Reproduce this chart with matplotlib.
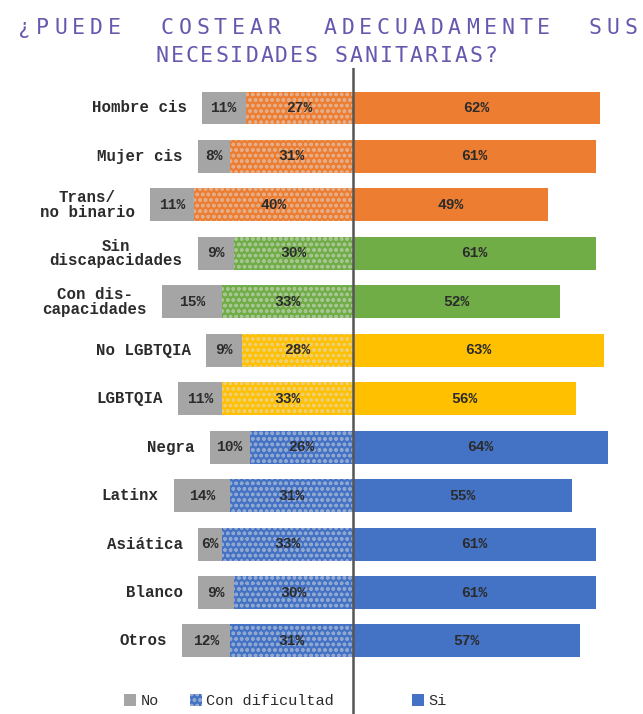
import numpy as np
import matplotlib
matplotlib.use('Agg')
import matplotlib.pyplot as plt
from matplotlib.patches import Patch
from matplotlib.colors import to_rgb

# datos
categorias = ['Hombre cis', 'Mujer cis', 'Trans/\nno binario', 'Sin\ndiscapacidades',
              'Con dis-\ncapacidades', 'No LGBTQIA', 'LGBTQIA', 'Negra', 'Latinx',
              'Asiática', 'Blanco', 'Otros']
no = [11, 8, 11, 9, 15, 9, 11, 10, 14, 6, 9, 12]
con_dificultad = [27, 31, 40, 30, 33, 28, 33, 26, 31, 33, 30, 31]
si = [62, 61, 49, 61, 52, 63, 56, 64, 55, 61, 61, 57]
grupos = ['genero'] * 3 + ['discapacidad'] * 2 + ['lgbtqia'] * 2 + ['raza'] * 5
leyenda = ['No', 'Con dificultad', 'Si']

colores = {'genero': '#ED7D31', 'discapacidad': '#70AD47',
           'lgbtqia': '#FFC000', 'raza': '#4472C4'}
gris = '#A5A5A5'
morado = '#6459AE'
texto = '#2B2B2B'


def puntos(c, f=0.5):
    # color de los puntos del rayado: mezcla del color con gris claro
    a = np.array(to_rgb(c))
    b = np.array(to_rgb('#DCDCDC'))
    return tuple(a * (1 - f) + b * f)


plt.rcParams['hatch.linewidth'] = 1.0

W, H = 643, 714
fig = plt.figure(figsize=(W / 100, H / 100), dpi=100)
ax = fig.add_axes([60 / W, 0, (W - 60) / W, (H - 68) / H])
esc = 3.98      # px por punto porcentual
fila = 48.45    # px entre filas
ax.set_xlim((60 - 353) / esc, (W - 353) / esc)
ax.set_ylim((H - 108) / fila, (68 - 108) / fila)
ax.axis('off')

y = np.arange(len(categorias))
no_a = np.array(no)
dif_a = np.array(con_dificultad)
si_a = np.array(si)
col = [colores[g] for g in grupos]

ax.barh(y, -dif_a, left=0, height=0.68, color=col, edgecolor=[puntos(c) for c in col],
        hatch='ooo', linewidth=0)
ax.barh(y, -no_a, left=-dif_a, height=0.68, color=gris, linewidth=0)
ax.barh(y, si_a, left=0, height=0.68, color=col, linewidth=0)

fuente = dict(family='Liberation Mono', weight='bold', color=texto)
for i in y:
    ax.text(-dif_a[i] / 2, i, f'{dif_a[i]}%', ha='center', va='center', fontsize=10.5, **fuente)
    ax.text(-dif_a[i] - no_a[i] / 2, i, f'{no_a[i]}%', ha='center', va='center', fontsize=10.5, **fuente)
    ax.text(si_a[i] / 2, i, f'{si_a[i]}%', ha='center', va='center', fontsize=10.5, **fuente)
    ax.text(-dif_a[i] - no_a[i] - 3.8, i, categorias[i], ha='right', va='center',
            multialignment='center', fontsize=11.3, linespacing=0.95, **fuente)

ax.axvline(0, color='#555555', lw=1.8)

# leyenda
h_no = Patch(facecolor=gris, linewidth=0)
h_dif = Patch(facecolor=colores['raza'], edgecolor=puntos(colores['raza']), hatch='ooo', linewidth=0)
h_si = Patch(facecolor=colores['raza'], linewidth=0)
props = dict(family='Liberation Mono', size=11)
opts = dict(loc='center left', frameon=False, handlelength=0.8, handleheight=0.8,
            handletextpad=0.3, borderpad=0, borderaxespad=0, prop=props)
leg1 = fig.legend([h_no, h_dif], leyenda[:2], bbox_to_anchor=(124 / W, 1 - 701 / H),
                  ncol=2, columnspacing=2.0, **opts)
for t in leg1.get_texts():
    t.set_color(texto)
leg2 = fig.legend([h_si], leyenda[2:], bbox_to_anchor=(412 / W, 1 - 701 / H), **opts)
for t in leg2.get_texts():
    t.set_color(texto)


# titulo, letra por letra para imitar el espaciado
def letras(cadena, x0, base, paso):
    for k, c in enumerate(cadena):
        fig.text((x0 + k * paso) / W, 1 - base / H, c, ha='center', va='baseline',
                 family='DejaVu Sans Mono', fontsize=15.5, color=morado)


for palabra, x0 in [('¿PUEDE', 25), ('COSTEAR', 167), ('ADECUADAMENTE', 330), ('SUS', 595)]:
    letras(palabra, x0, 34, 17.8)
letras('NECESIDADES SANITARIAS?', 162, 62, 14.95)

fig.savefig('out.png', dpi=100)
